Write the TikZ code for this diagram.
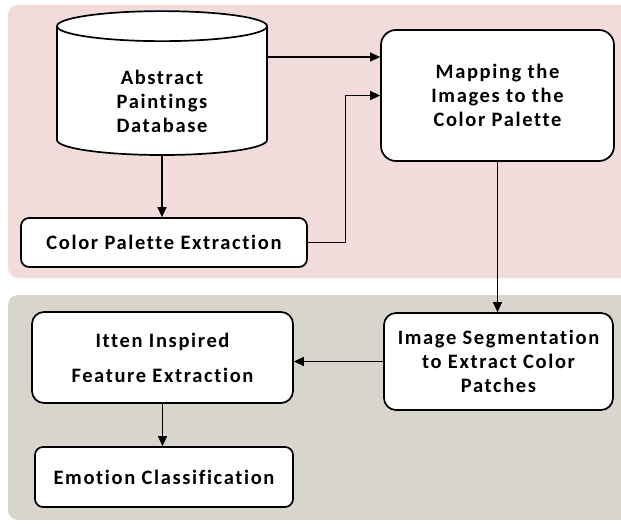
\documentclass[tikz,border=0pt]{standalone}
\usepackage{fontspec}
\setmainfont{Carlito}[LetterSpace=8, Ligatures={NoCommon}]
\usetikzlibrary{arrows.meta, shapes.geometric}
\definecolor{panelpink}{RGB}{242,220,219}
\definecolor{panelgray}{RGB}{216,213,205}

\begin{document}
\begin{tikzpicture}[x=1pt, y=1pt,
  lbl/.style={draw, line width=1.7pt, fill=white, align=center, inner sep=0pt,
    font=\bfseries\fontsize{20.5}{24}\selectfont},
  box/.style={lbl, rounded corners=#1},
  box/.default=8pt,
  flow/.style={line width=1.2pt, -{Triangle[length=10pt, width=9pt]}}]
  \useasboundingbox (0,0) rectangle (621,523);

  % Background panels (run off the right edge)
  \fill[panelpink, rounded corners=10pt] (8,245) rectangle (640,518);
  \fill[panelgray, rounded corners=10pt] (8,3) rectangle (640,228);

  % --- upper panel ---
  % text sits a little below the middle of the cylinder
  \node[lbl, shape=cylinder, shape border rotate=90, aspect=0.33,
        minimum width=210pt, minimum height=142pt] (db) at (162,432)
        {\raisebox{0pt}[\dimexpr\height+26pt\relax][\depth]{\tabular{@{}c@{}}Abstract\\Paintings\\Database\endtabular}};
  \node[box, minimum width=286pt, minimum height=49pt] (cpe) at (164,280.5)
        {Color Palette Extraction};
  \node[box=15pt, minimum width=233pt, minimum height=131pt] (map) at (497.5,427.5)
        {Mapping the\\Images to the\\Color Palette};

  % --- lower panel ---
  \node[box=12pt, minimum width=229pt, minimum height=97pt] (seg) at (498.5,161.5)
        {Image Segmentation\\to Extract Color\\Patches};
  \node[box=12pt, minimum width=261pt, minimum height=91pt] (itten) at (162.5,165.5)
        {Itten Inspired\\[11pt]Feature Extraction};
  \node[box, minimum width=258pt, minimum height=60pt] (emo) at (164,46)
        {Emotion Classification};

  % Connectors
  \draw[flow] ([yshift=34pt]db.east) -- ([yshift=34pt]db.east -| map.west);
  \draw[flow] (db.south) -- (db.south |- cpe.north);
  \draw[flow] (cpe.east) -- ++(38,0) |- (map.west);
  \draw[flow] (map.south) -- (map.south |- seg.north);
  \draw[flow] (seg.west) -- (seg.west -| itten.east);
  \draw[flow] (itten.south) -- (itten.south |- emo.north);
\end{tikzpicture}
\end{document}
